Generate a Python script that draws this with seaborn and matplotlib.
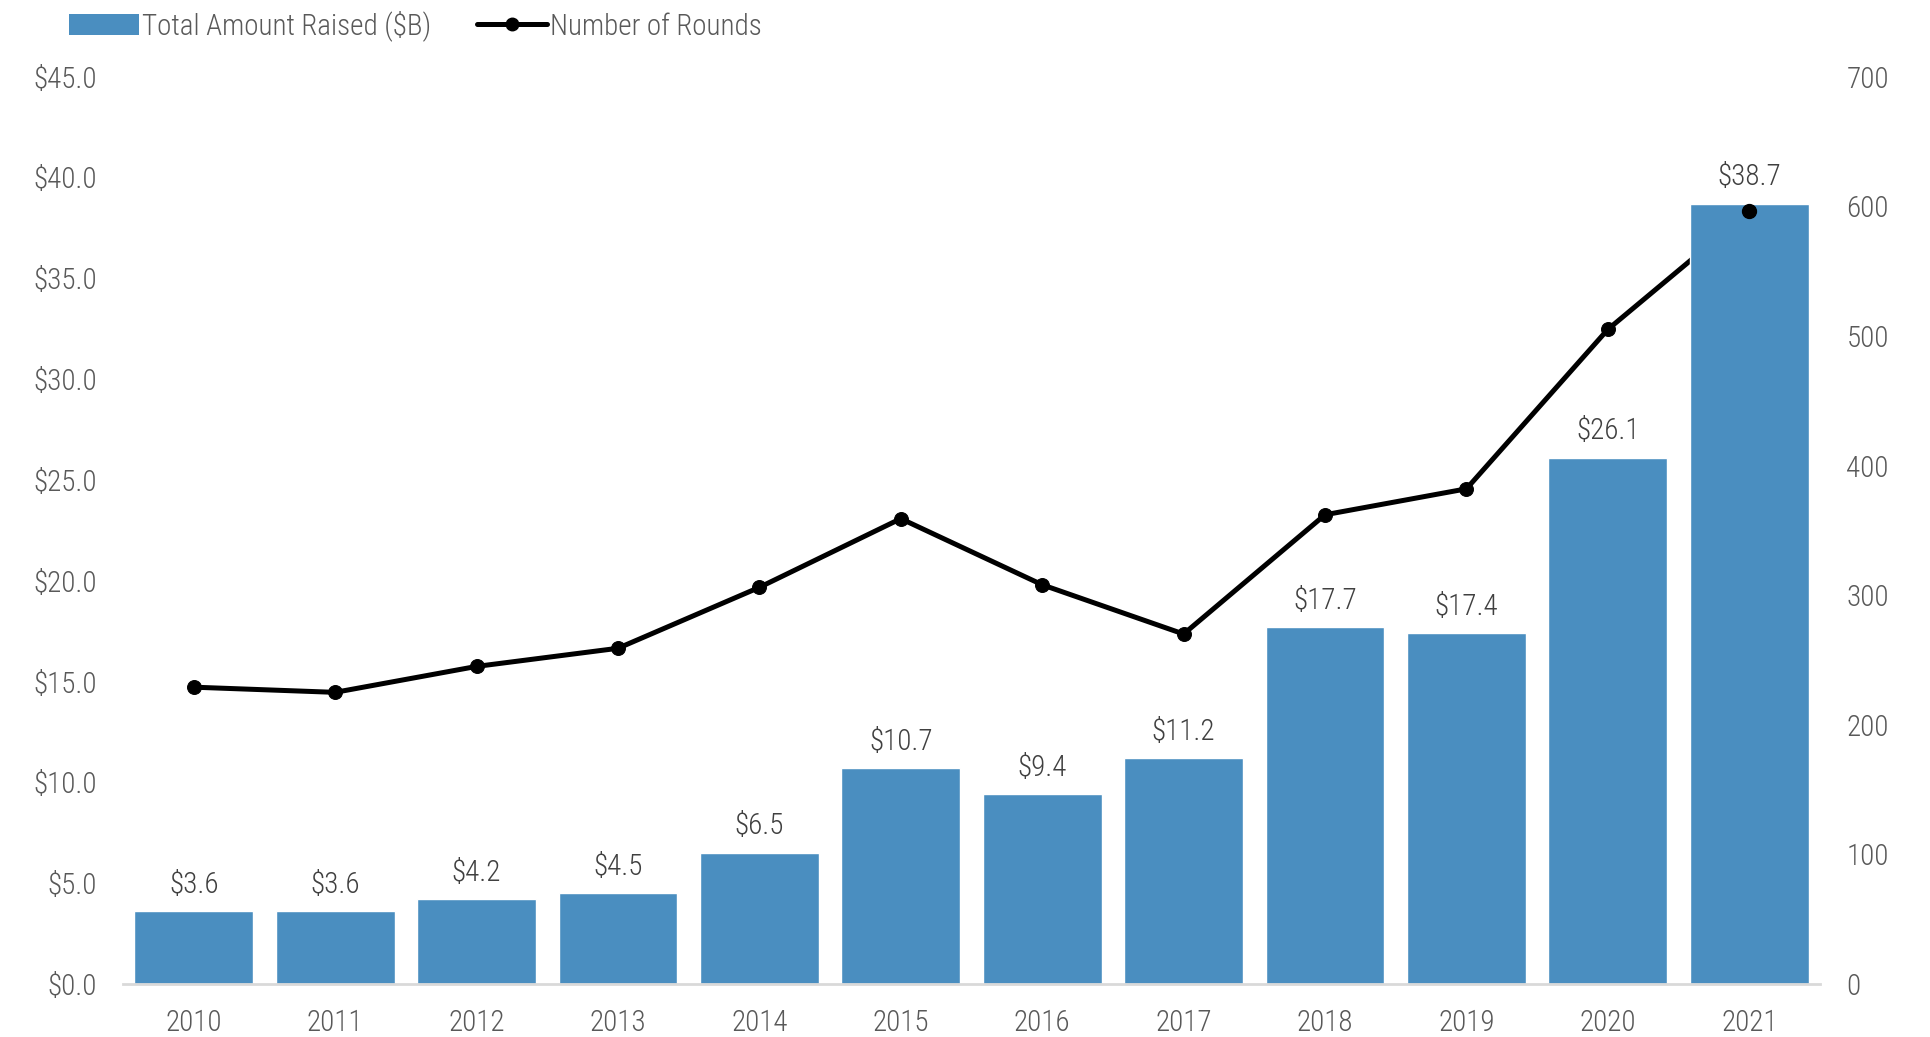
import matplotlib
matplotlib.use("Agg")
import matplotlib.pyplot as plt
import seaborn as sns
import numpy as np
from matplotlib.lines import Line2D
from matplotlib.patches import Patch

years = ["2010", "2011", "2012", "2013", "2014", "2015", "2016", "2017", "2018", "2019", "2020", "2021"]
amount_raised = [3.6, 3.6, 4.2, 4.5, 6.5, 10.7, 9.4, 11.2, 17.7, 17.4, 26.1, 38.7]
num_rounds = [229, 225, 245, 259, 306, 359, 308, 270, 362, 382, 505, 596]
left_ticks = [0, 5, 10, 15, 20, 25, 30, 35, 40, 45]
right_ticks = [0, 100, 200, 300, 400, 500, 600, 700]

sns.set_theme(style="white")
plt.rcParams["font.family"] = ["Roboto Condensed", "Open Sans Condensed", "Liberation Sans Narrow", "Lato", "DejaVu Sans"]
plt.rcParams["font.weight"] = "light"

BAR = "#4A8EC0"
TXT = "#595959"
FS = 21

fig = plt.figure(figsize=(19.31, 10.37), dpi=100)
ax1 = fig.add_axes([0.0637, 0.0511, 0.8788, 0.8750])
ax2 = ax1.twinx()

sns.barplot(x=years, y=amount_raised, color=BAR, width=0.84, saturation=1, ax=ax1, zorder=2)
ax1.bar_label(ax1.containers[0], labels=[f"${v:.1f}" for v in amount_raised],
              padding=9, fontsize=FS, color="#404040")

x_pos = np.arange(len(years))
sns.lineplot(x=x_pos, y=num_rounds, ax=ax2, color="black", linewidth=3.6,
             marker="o", markersize=10, markeredgecolor="black", legend=False)

# final marker sits above the bars
ax1.plot([x_pos[-1]], [num_rounds[-1]], "o", color="black", markersize=10,
         transform=ax2.transData, zorder=5, clip_on=False)

ax1.set_zorder(2)
ax2.set_zorder(1)
ax1.patch.set_visible(False)

ax1.set_xlim(-0.5, len(years) - 0.5)
ax1.set_ylim(0, 45)
ax2.set_ylim(0, 700)
ax1.set_yticks(left_ticks)
ax1.set_yticklabels([f"${v:.1f}" for v in left_ticks])
ax2.set_yticks(right_ticks)
ax2.set_yticklabels([str(v) for v in right_ticks])

for ax in (ax1, ax2):
    for s in ("top", "left", "right", "bottom"):
        ax.spines[s].set_visible(False)
    ax.set_xlabel("")
    ax.set_ylabel("")
    ax.grid(False)
    ax.tick_params(length=0, labelsize=FS, colors=TXT)
ax1.spines["bottom"].set_visible(True)
ax1.spines["bottom"].set_color("#D9D9D9")
ax1.spines["bottom"].set_linewidth(2)
ax1.tick_params(axis="y", pad=19)
ax1.tick_params(axis="x", pad=18)
ax2.tick_params(axis="y", pad=19)

handles = [Patch(facecolor=BAR, edgecolor="none"),
           Line2D([], [], color="black", linewidth=3.6, marker="o", markersize=9)]
fig.legend(handles, ["Total Amount Raised ($B)", "Number of Rounds"],
           loc="center left", bbox_to_anchor=(0.022, 0.975), ncol=2, frameon=False,
           fontsize=FS, labelcolor=TXT, handlelength=2.4, handletextpad=0.1,
           columnspacing=1.6, handleheight=0.7)

fig.savefig("out.png", dpi=100)
